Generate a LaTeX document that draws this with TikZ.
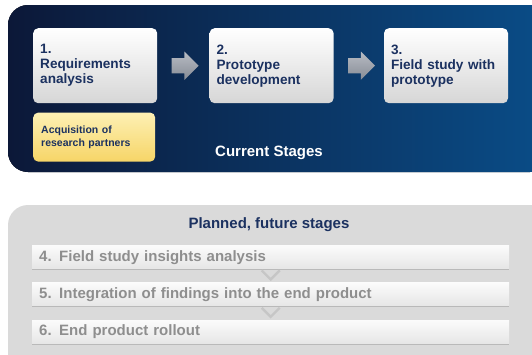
\documentclass[tikz,border=0pt]{standalone}
\usepackage{fontspec}
\setmainfont{Liberation Sans}
\usetikzlibrary{positioning,shapes.arrows}
\definecolor{navyL}{HTML}{0C1838}
\definecolor{navyR}{HTML}{0A4D88}
\definecolor{stageText}{HTML}{1B3160}
\definecolor{barText}{HTML}{8E8E8E}
\definecolor{panelGray}{HTML}{DADADA}
\definecolor{yelTop}{HTML}{FDF0B4}
\definecolor{yelBot}{HTML}{F6D567}
\definecolor{arrowTop}{HTML}{B8BCC4}
\definecolor{arrowBot}{HTML}{868B95}
\begin{document}
\begin{tikzpicture}[x=1pt,y=1pt,
    stagebox/.style={rounded corners=5pt,top color=white,bottom color=gray!32,
      minimum width=124pt,minimum height=75pt,text width=110pt,inner xsep=7pt,
      align=left,text=stageText,font=\bfseries\fontsize{13.6}{15}\selectfont},
    partnerbox/.style={rounded corners=5pt,top color=yelTop,bottom color=yelBot,
      minimum width=122pt,minimum height=49pt,text width=106pt,inner xsep=8pt,
      align=left,text=stageText,font=\bfseries\fontsize{10.5}{12.6}\selectfont},
    flowarrow/.style={single arrow,top color=arrowTop,bottom color=arrowBot,
      minimum height=27pt,minimum width=28pt,single arrow head extend=6.5pt,
      single arrow head indent=0pt,inner xsep=0pt,inner ysep=7.5pt,
      text height=0pt,text depth=0pt,text width=1pt},
    futurebar/.style={top color=gray!3,bottom color=gray!20,minimum width=477pt,
      minimum height=24pt,text width=463pt,inner xsep=7pt,align=left,
      text=barText,font=\bfseries\fontsize{15}{17}\selectfont},
    barshadow/.style={draw=gray!55,line width=1.2pt},
    chevron/.style={draw=gray!45,line width=2.4pt}]
  \useasboundingbox (0,0) rectangle (532,-354);
  % panels
  \fill[left color=navyL,right color=navyR,rounded corners=20pt] (8,-5) rectangle (550,-172);
  \fill[panelGray,rounded corners=20pt] (8,-205) rectangle (550,-380);
  % current stages
  \node[stagebox,anchor=north west] (req) at (33,-28) {1.\\Requirements\\analysis};
  \node[flowarrow,right=14pt of req] (a1) {};
  \node[stagebox,right=52pt of req] (proto) {2.\\Prototype\\development};
  \node[flowarrow,right=14pt of proto] (a2) {};
  \node[stagebox,right=50pt of proto] (field) {3.\\Field study with\\prototype};
  \node[partnerbox,below=9pt of req.south west,anchor=north west] (acq) {Acquisition of\\research partners};
  \node[text=white,font=\bfseries\fontsize{15}{17}\selectfont] (cur) at (269,-153) {Current Stages};
  % planned stages
  \node[text=stageText,font=\bfseries\fontsize{15}{17}\selectfont] (plan) at (269,-225) {Planned, future stages};
  \node[futurebar,anchor=north west] (s4) at (32,-245) {4. Field study insights analysis};
  \node[futurebar,below=13pt of s4] (s5) {5. Integration of findings into the end product};
  \node[futurebar,below=13pt of s5] (s6) {6. End product rollout};
  \foreach \s in {s4,s5,s6}
    \draw[barshadow] (\s.south west) -- (\s.south east);
  \draw[chevron] ([xshift=-9pt,yshift=-1pt]s4.south) -- ([yshift=-10pt]s4.south) -- ([xshift=9pt,yshift=-1pt]s4.south);
  \draw[chevron] ([xshift=-9pt,yshift=-1pt]s5.south) -- ([yshift=-10pt]s5.south) -- ([xshift=9pt,yshift=-1pt]s5.south);
\end{tikzpicture}
\end{document}
